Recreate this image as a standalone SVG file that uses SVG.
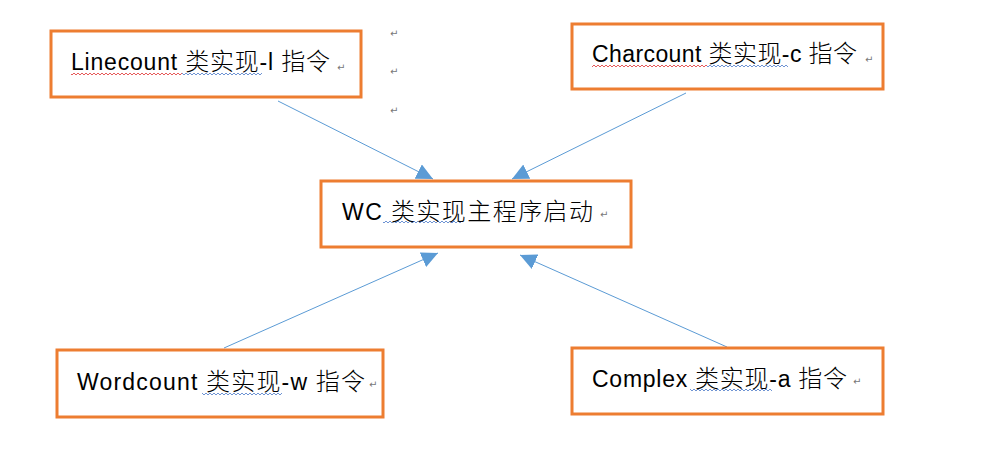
<svg xmlns="http://www.w3.org/2000/svg" width="989" height="451" viewBox="0 0 989 451">
<defs>
<style>
.box{fill:#fff;stroke:#ED7D31;stroke-width:3}
.lbl{font-family:"Liberation Sans","Noto Sans CJK SC",sans-serif;font-size:23px;fill:#000}
.cj{font-family:"Noto Sans CJK SC",sans-serif;font-size:24px;font-weight:300}
.pm{font-family:"DejaVu Sans",sans-serif;font-size:10px;fill:#777}
.conn{stroke:#5B9BD5;stroke-width:1;fill:none;marker-end:url(#ah)}
</style>
<marker id="ah" markerUnits="userSpaceOnUse" markerWidth="17" markerHeight="16" refX="16.5" refY="8" orient="auto">
<path d="M0,0 L16.5,8 L0,16 Z" fill="#5B9BD5"/>
</marker>
<pattern id="wr" width="4" height="4" patternUnits="userSpaceOnUse"><path d="M0,3 L2,1 L4,3" stroke="#E03030" stroke-width="0.8" fill="none"/></pattern>
<pattern id="wb" width="4" height="4" patternUnits="userSpaceOnUse"><path d="M0,3 L2,1 L4,3" stroke="#4A78C8" stroke-width="0.8" fill="none"/></pattern>
</defs>
<rect width="989" height="451" fill="#fff"/>
<g id="connectors">
<line class="conn" x1="278" y1="101" x2="433" y2="179"/>
<line class="conn" x1="686" y1="93" x2="512" y2="179"/>
<line class="conn" x1="224" y1="348" x2="438" y2="253"/>
<line class="conn" x1="727" y1="347" x2="520" y2="255"/>
</g>
<g id="linecount">
<rect class="box" x="51" y="31" width="310" height="66"/>
<rect x="71" y="72" width="111" height="4" fill="url(#wr)"/>
<rect x="182" y="72" width="80" height="4" fill="url(#wb)"/>
<text class="lbl" x="71" y="70" textLength="259" lengthAdjust="spacing">Linecount <tspan class="cj">类实现</tspan>-l <tspan class="cj">指令</tspan></text>
<text class="pm" x="337" y="71">↵</text>
</g>
<g id="charcount">
<rect class="box" x="572" y="24" width="311" height="65"/>
<rect x="592" y="64" width="115" height="4" fill="url(#wr)"/>
<rect x="707" y="64" width="81" height="4" fill="url(#wb)"/>
<text class="lbl" x="592" y="62" textLength="265" lengthAdjust="spacing">Charcount <tspan class="cj">类实现</tspan>-c <tspan class="cj">指令</tspan></text>
<text class="pm" x="865" y="63">↵</text>
</g>
<g id="wc">
<rect class="box" x="321" y="181" width="310" height="66"/>
<rect x="383" y="220" width="80" height="4" fill="url(#wb)"/>
<text class="lbl" x="342" y="220" textLength="251" lengthAdjust="spacing">WC <tspan class="cj">类实现主程序启动</tspan></text>
<text class="pm" x="600" y="218">↵</text>
</g>
<g id="wordcount">
<rect class="box" x="57" y="350" width="326" height="67"/>
<rect x="202" y="392" width="80" height="4" fill="url(#wb)"/>
<text class="lbl" x="77" y="390" textLength="288" lengthAdjust="spacing">Wordcount <tspan class="cj">类实现</tspan>-w <tspan class="cj">指令</tspan></text>
<text class="pm" x="369" y="388">↵</text>
</g>
<g id="complex">
<rect class="box" x="572" y="348" width="311" height="66"/>
<rect x="690" y="388" width="82" height="4" fill="url(#wb)"/>
<text class="lbl" x="592" y="387" textLength="255" lengthAdjust="spacing">Complex <tspan class="cj">类实现</tspan>-a <tspan class="cj">指令</tspan></text>
<text class="pm" x="853" y="385">↵</text>
</g>
<g id="marks">
<text class="pm" x="390" y="37">↵</text>
<text class="pm" x="390" y="75">↵</text>
<text class="pm" x="390" y="114">↵</text>
</g>
</svg>
